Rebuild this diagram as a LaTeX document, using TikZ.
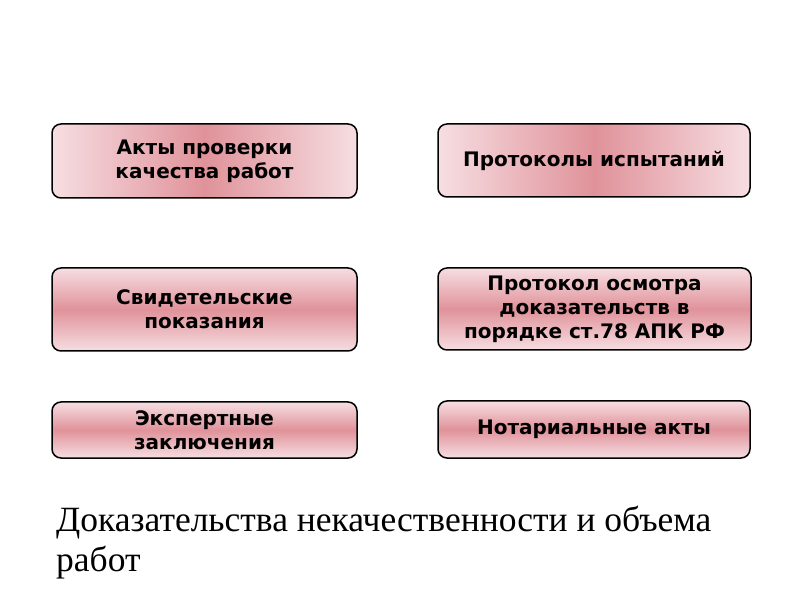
\documentclass[tikz,border=0pt]{standalone}
\usepackage{fontspec}
\setsansfont{DejaVu Sans}
\newfontfamily\titlefont{Liberation Serif}
\definecolor{pinkedge}{RGB}{246,222,226}
\definecolor{pinkmid}{RGB}{224,146,154}
\tikzset{
  box/.style={draw, line width=1.5pt, rounded corners=9pt, align=center,
    font=\sffamily\bfseries\fontsize{20}{24}\selectfont},
  sidebox/.style={box, left color=pinkedge, right color=pinkedge, middle color=pinkmid},
  bandbox/.style={box, top color=pinkedge, bottom color=pinkedge, middle color=pinkmid}
}

\begin{document}
\begin{tikzpicture}[x=1pt, y=1pt]
  % the page, 800 x 600
  \useasboundingbox (0,0) rectangle (800,600);

  % top row, shaded from the sides
  \node[sidebox, minimum width=305, minimum height=74] (akty) at (204.5,439) {Акты проверки\\качества работ};
  \node[sidebox, minimum width=312, minimum height=73] (protokoly) at (594,439.5) {Протоколы испытаний};

  % middle row, shaded from top and bottom
  \node[bandbox, minimum width=305, minimum height=83] (svid) at (204.5,290.5) {Свидетельские\\показания};
  \node[bandbox, minimum width=313, minimum height=82] (osmotr) at (594.5,291) {Протокол осмотра\\доказательств в\\порядке ст.78 АПК РФ};

  % bottom row
  \node[bandbox, minimum width=305, minimum height=56] (ekspert) at (204.5,170) {Экспертные\\заключения};
  \node[bandbox, minimum width=312, minimum height=57] (notar) at (594,170.5) {Нотариальные акты};

  % the title under the boxes
  \node[anchor=north west, align=left, inner sep=0pt,
    font=\titlefont\fontsize{35.5}{40}\selectfont] (title) at (56,94)
    {Доказательства некачественности и объема\\работ};
\end{tikzpicture}
\end{document}
